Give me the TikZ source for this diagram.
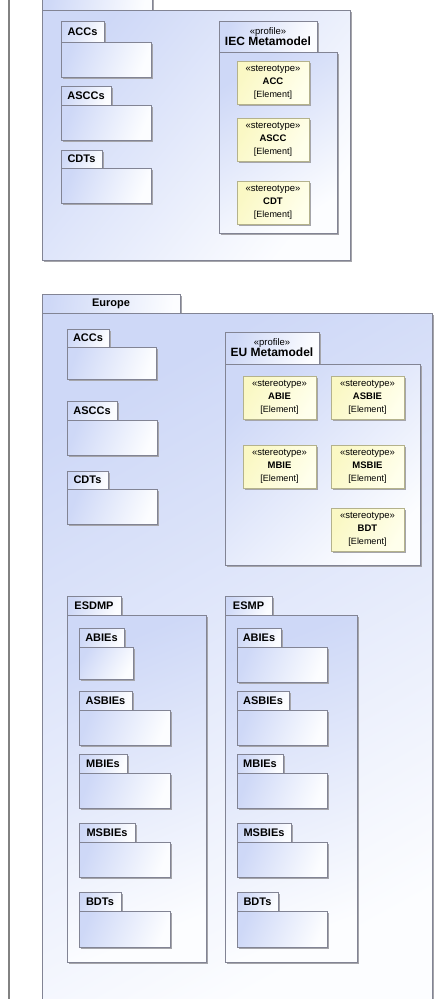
\documentclass[tikz,border=0pt]{standalone}
\usepackage{fontspec}
\setmainfont{Liberation Sans}
\usetikzlibrary{shadows}
\definecolor{pkgA}{RGB}{206,216,247}
\definecolor{pkgB}{RGB}{252,253,255}
\definecolor{pkgline}{RGB}{130,132,148}
\definecolor{shadowc}{RGB}{165,165,170}
\definecolor{stA}{RGB}{250,248,196}
\definecolor{stB}{RGB}{255,255,236}
\definecolor{stline}{RGB}{180,178,140}
\definecolor{frameline}{RGB}{130,130,130}
\tikzset{
  boxbase/.style={rectangle, draw=pkgline, line width=0.9pt, inner sep=0pt, outer sep=0pt,
    anchor=north west,
    drop shadow={opacity=1, fill=shadowc, shadow xshift=1.6pt, shadow yshift=-1.6pt}},
  pkgtab/.style={boxbase, left color=pkgA, right color=pkgB,
    font=\fontsize{11}{13}\selectfont\bfseries},
  pkgbody/.style={boxbase, left color=pkgA, right color=pkgB},
  proftab/.style={boxbase, left color=pkgA, right color=pkgB, align=center},
  stereo/.style={boxbase, draw=stline, left color=stA, right color=stB,
    align=center, font=\fontsize{9.5}{13}\selectfont},
}
\newcommand{\umlrect}[7]{%
  \pgfmathsetmacro{\umlang}{atan2(#5-#3,#6-#4)}%
  \node[#2, shading angle=\umlang, minimum width={#5-#3}, minimum height={#6-#4}] (#1) at (#3,#4) {#7};}
\newcommand{\stereotext}[1]{\guillemotleft stereotype\guillemotright\\ \textbf{#1}\\ {\fontsize{9}{13}\selectfont[Element]}}
\newcommand{\proftext}[1]{{\fontsize{9.5}{12}\selectfont\guillemotleft profile\guillemotright}\\[-1pt] {\fontsize{12}{14}\selectfont\bfseries #1}}
\begin{document}
\begin{tikzpicture}[x=1pt, y=-1pt]
\useasboundingbox (0,0) rectangle (440,999);
\clip (0,0) rectangle (440,999);
\fill[white] (0,0) rectangle (440,999);
\coordinate (ftop) at (9,0);
\coordinate (fbot) at (9,999);
\draw[frameline, line width=1.3pt] (ftop) -- (fbot);

% ---------- top (IEC) package ----------
\umlrect{iectab}{pkgtab}{42}{-12}{152}{10}{}
\umlrect{iec}{pkgbody}{42}{10}{350}{260}{}
\umlrect{accTab}{pkgtab}{61}{21}{104}{42}{ACCs}
\umlrect{acc}{pkgbody}{61}{42}{151}{77}{}
\umlrect{asccTab}{pkgtab}{61}{86}{111}{105}{ASCCs}
\umlrect{ascc}{pkgbody}{61}{105}{151}{140}{}
\umlrect{cdtTab}{pkgtab}{61}{150}{102}{168}{CDTs}
\umlrect{cdt}{pkgbody}{61}{168}{151}{203}{}
\umlrect{iecProfTab}{proftab}{219}{21}{317}{52}{\proftext{IEC Metamodel}}
\umlrect{iecProf}{pkgbody}{219}{52}{337}{233}{}
\umlrect{stACC}{stereo}{237}{61}{309}{104}{\stereotext{ACC}}
\umlrect{stASCC}{stereo}{237}{118}{309}{161}{\stereotext{ASCC}}
\umlrect{stCDT}{stereo}{237}{181}{309}{224}{\stereotext{CDT}}

% ---------- Europe package ----------
\umlrect{euTab}{pkgtab}{42}{294}{180}{313}{Europe}
\umlrect{eu}{pkgbody}{42}{313}{432}{1015}{}
\umlrect{euAccTab}{pkgtab}{67}{329}{109}{347}{ACCs}
\umlrect{euAcc}{pkgbody}{67}{347}{156}{379}{}
\umlrect{euAsccTab}{pkgtab}{67}{401}{117}{420}{ASCCs}
\umlrect{euAscc}{pkgbody}{67}{420}{157}{455}{}
\umlrect{euCdtTab}{pkgtab}{67}{471}{108}{489}{CDTs}
\umlrect{euCdt}{pkgbody}{67}{489}{157}{524}{}
\umlrect{euProfTab}{proftab}{225}{332}{319}{364}{\proftext{EU Metamodel}}
\umlrect{euProf}{pkgbody}{225}{364}{420}{565}{}
\umlrect{stABIE}{stereo}{243}{376}{316}{419}{\stereotext{ABIE}}
\umlrect{stASBIE}{stereo}{331}{376}{404}{419}{\stereotext{ASBIE}}
\umlrect{stMBIE}{stereo}{243}{445}{316}{488}{\stereotext{MBIE}}
\umlrect{stMSBIE}{stereo}{331}{445}{404}{488}{\stereotext{MSBIE}}
\umlrect{stBDT}{stereo}{331}{508}{404}{551}{\stereotext{BDT}}

% ---------- ESDMP ----------
\umlrect{esdmpTab}{pkgtab}{67}{596}{121}{615}{ESDMP}
\umlrect{esdmp}{pkgbody}{67}{615}{206}{962}{}
\umlrect{dAbieTab}{pkgtab}{79}{628}{124}{647}{ABIEs}
\umlrect{dAbie}{pkgbody}{79}{647}{133}{679}{}
\umlrect{dAsbieTab}{pkgtab}{79}{691}{132}{710}{ASBIEs}
\umlrect{dAsbie}{pkgbody}{79}{710}{170}{745}{}
\umlrect{dMbieTab}{pkgtab}{79}{754}{127}{773}{MBIEs}
\umlrect{dMbie}{pkgbody}{79}{773}{170}{808}{}
\umlrect{dMsbieTab}{pkgtab}{79}{823}{135}{842}{MSBIEs}
\umlrect{dMsbie}{pkgbody}{79}{842}{170}{877}{}
\umlrect{dBdtTab}{pkgtab}{79}{892}{121}{911}{BDTs}
\umlrect{dBdt}{pkgbody}{79}{911}{170}{947}{}

% ---------- ESMP ----------
\umlrect{esmpTab}{pkgtab}{225}{596}{272}{615}{ESMP}
\umlrect{esmp}{pkgbody}{225}{615}{357}{962}{}
\umlrect{mAbieTab}{pkgtab}{237}{628}{281}{647}{ABIEs}
\umlrect{mAbie}{pkgbody}{237}{647}{327}{682}{}
\umlrect{mAsbieTab}{pkgtab}{237}{691}{289}{710}{ASBIEs}
\umlrect{mAsbie}{pkgbody}{237}{710}{327}{745}{}
\umlrect{mMbieTab}{pkgtab}{237}{754}{283}{773}{MBIEs}
\umlrect{mMbie}{pkgbody}{237}{773}{327}{808}{}
\umlrect{mMsbieTab}{pkgtab}{237}{823}{291}{842}{MSBIEs}
\umlrect{mMsbie}{pkgbody}{237}{842}{327}{877}{}
\umlrect{mBdtTab}{pkgtab}{237}{892}{278}{911}{BDTs}
\umlrect{mBdt}{pkgbody}{237}{911}{327}{947}{}
\end{tikzpicture}
\end{document}
